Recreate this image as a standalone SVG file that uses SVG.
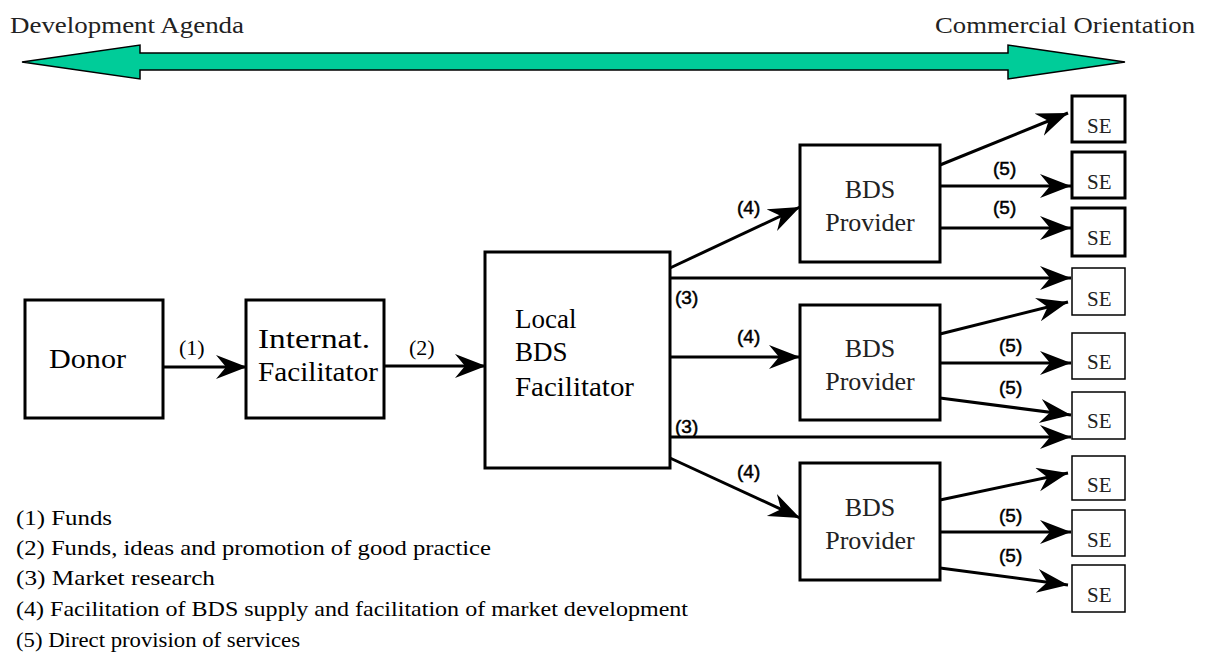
<svg xmlns="http://www.w3.org/2000/svg" width="1205" height="653" viewBox="0 0 1205 653">
<style>
.box{fill:#fff;stroke:#000;stroke-width:3}
.se{fill:#fff;stroke:#000;stroke-width:1.5}
.se.thick{stroke-width:3}
.t{font-family:"Liberation Serif","Times New Roman","DejaVu Serif",serif;fill:#000}
.big{font-size:27px}
.prov{font-size:26px;fill:#222}
.sel{font-size:21px;fill:#222}
.lbl{font-family:"Liberation Sans",Arial,sans-serif;font-size:19px;fill:#000;stroke:#000;stroke-width:0.5}
.lbls{font-family:"Liberation Serif","Times New Roman","DejaVu Serif",serif;font-size:22px;fill:#000}
.leg{font-family:"Liberation Serif","Times New Roman","DejaVu Serif",serif;font-size:21px;fill:#000}
.hdr{font-family:"Liberation Serif","Times New Roman","DejaVu Serif",serif;font-size:24px;fill:#222}
.c{fill:none;stroke:#000;stroke-width:3;marker-end:url(#ah)}
</style>
<defs>
<marker id="ah" markerUnits="userSpaceOnUse" markerWidth="34" markerHeight="28" refX="31" refY="12" orient="auto" viewBox="0 0 34 28">
<path d="M0,0 L31,12 L0,24 L10,12 Z" fill="#000"/>
</marker>
</defs>

<g id="scale">
<polygon points="22,62 140,45 140,53 1008,53 1008,45 1125,62 1008,79 1008,70 140,70 140,79" fill="#00CC99" stroke="#000" stroke-width="1.5"/>
<text class="hdr" x="10" y="33" textLength="234" lengthAdjust="spacingAndGlyphs">Development Agenda</text>
<text class="hdr" x="935" y="33" textLength="260" lengthAdjust="spacingAndGlyphs">Commercial Orientation</text>
</g>

<g id="connectors">
<line class="c" x1="163" y1="367" x2="247" y2="367"/>
<line class="c" x1="384" y1="366" x2="486" y2="366"/>
<line class="c" x1="670" y1="268" x2="800" y2="207"/>
<line class="c" x1="670" y1="278" x2="1071" y2="278"/>
<line class="c" x1="670" y1="357" x2="800" y2="357"/>
<line class="c" x1="670" y1="437" x2="1071" y2="437"/>
<line class="c" x1="670" y1="458" x2="800" y2="518"/>
<line class="c" x1="940" y1="165" x2="1068" y2="113"/>
<line class="c" x1="940" y1="186" x2="1071" y2="186"/>
<line class="c" x1="940" y1="228" x2="1071" y2="228"/>
<line class="c" x1="940" y1="334" x2="1068" y2="302"/>
<line class="c" x1="940" y1="363" x2="1071" y2="363"/>
<line class="c" x1="940" y1="398" x2="1071" y2="415"/>
<line class="c" x1="940" y1="500" x2="1068" y2="473"/>
<line class="c" x1="940" y1="532" x2="1071" y2="532"/>
<line class="c" x1="940" y1="568" x2="1068" y2="585"/>
<text class="lbls" x="179" y="355">(1)</text>
<text class="lbls" x="409" y="355">(2)</text>
<text class="lbl" x="737" y="214">(4)</text>
<text class="lbl" x="737" y="343">(4)</text>
<text class="lbl" x="737" y="478">(4)</text>
<text class="lbl" x="675" y="304">(3)</text>
<text class="lbl" x="675" y="433">(3)</text>
<text class="lbl" x="993" y="175">(5)</text>
<text class="lbl" x="993" y="214">(5)</text>
<text class="lbl" x="999" y="352">(5)</text>
<text class="lbl" x="999" y="394">(5)</text>
<text class="lbl" x="999" y="522">(5)</text>
<text class="lbl" x="999" y="562">(5)</text>
</g>

<g id="donor">
<rect class="box" x="25" y="300" width="138" height="118"/>
<text class="t big" x="49" y="368" textLength="77" lengthAdjust="spacingAndGlyphs">Donor</text>
</g>
<g id="intl">
<rect class="box" x="246" y="300" width="138" height="118"/>
<text class="t big" x="258" y="348" textLength="112" lengthAdjust="spacingAndGlyphs">Internat.</text>
<text class="t big" x="258" y="381" textLength="120" lengthAdjust="spacingAndGlyphs">Facilitator</text>
</g>
<g id="local">
<rect class="box" x="485" y="252" width="185" height="216"/>
<text class="t big" x="515" y="328">Local</text>
<text class="t big" x="515" y="361">BDS</text>
<text class="t big" x="515" y="396" textLength="119" lengthAdjust="spacingAndGlyphs">Facilitator</text>
</g>
<g id="prov1">
<rect class="box" x="800" y="145" width="140" height="117"/>
<text class="t prov" x="870" y="198" text-anchor="middle">BDS</text>
<text class="t prov" x="870" y="231" text-anchor="middle">Provider</text>
</g>
<g id="prov2">
<rect class="box" x="800" y="305" width="140" height="115"/>
<text class="t prov" x="870" y="357" text-anchor="middle">BDS</text>
<text class="t prov" x="870" y="390" text-anchor="middle">Provider</text>
</g>
<g id="prov3">
<rect class="box" x="800" y="463" width="140" height="117"/>
<text class="t prov" x="870" y="516" text-anchor="middle">BDS</text>
<text class="t prov" x="870" y="549" text-anchor="middle">Provider</text>
</g>

<g id="se1"><rect class="se thick" x="1072" y="96" width="53" height="46"/><text class="t sel" x="1087" y="133">SE</text></g>
<g id="se2"><rect class="se thick" x="1072" y="152" width="53" height="46"/><text class="t sel" x="1087" y="189">SE</text></g>
<g id="se3"><rect class="se thick" x="1072" y="208" width="53" height="48"/><text class="t sel" x="1087" y="245">SE</text></g>
<g id="se4"><rect class="se" x="1072" y="268" width="53" height="47"/><text class="t sel" x="1087" y="306">SE</text></g>
<g id="se5"><rect class="se" x="1072" y="333" width="53" height="46"/><text class="t sel" x="1087" y="369">SE</text></g>
<g id="se6"><rect class="se" x="1072" y="392" width="53" height="47"/><text class="t sel" x="1087" y="428">SE</text></g>
<g id="se7"><rect class="se" x="1072" y="456" width="53" height="44"/><text class="t sel" x="1087" y="492">SE</text></g>
<g id="se8"><rect class="se" x="1072" y="510" width="53" height="46"/><text class="t sel" x="1087" y="547">SE</text></g>
<g id="se9"><rect class="se" x="1072" y="565" width="53" height="47"/><text class="t sel" x="1087" y="602">SE</text></g>

<g id="legend">
<text class="leg" x="16" y="525" textLength="96" lengthAdjust="spacingAndGlyphs">(1) Funds</text>
<text class="leg" x="16" y="555" textLength="475" lengthAdjust="spacingAndGlyphs">(2) Funds, ideas and promotion of good practice</text>
<text class="leg" x="16" y="585" textLength="199" lengthAdjust="spacingAndGlyphs">(3) Market research</text>
<text class="leg" x="16" y="616" textLength="672" lengthAdjust="spacingAndGlyphs">(4) Facilitation of BDS supply and facilitation of market development</text>
<text class="leg" x="16" y="647" textLength="284" lengthAdjust="spacingAndGlyphs">(5) Direct provision of services</text>
</g>
</svg>
